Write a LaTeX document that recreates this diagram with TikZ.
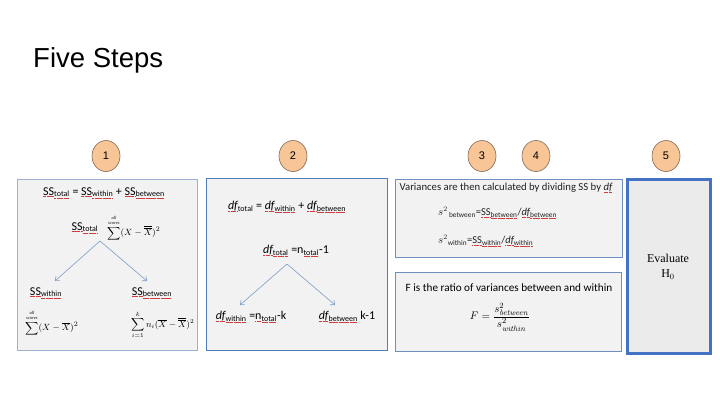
\documentclass[tikz,border=0pt]{standalone}
\usepackage[no-math]{fontspec}
\usepackage{amsmath}
\setmainfont{Carlito}
\newfontfamily\afont{Liberation Sans}
\newfontfamily\tfont{Liberation Serif}
\usetikzlibrary{shapes.geometric,arrows.meta}
\definecolor{boxfill}{HTML}{F2F2F2}
\definecolor{boxfillb}{HTML}{EBEBEB}
\definecolor{numfill}{HTML}{F8C597}
\definecolor{numdraw}{HTML}{7F6A55}
\definecolor{bA}{HTML}{9AB1D3}
\definecolor{bB}{HTML}{4F7DB8}
\definecolor{bC}{HTML}{6F8FC0}
\definecolor{bD}{HTML}{4472C4}
\definecolor{arrcol}{HTML}{7E9CC6}
\definecolor{sqcol}{HTML}{D23C3C}
\definecolor{txtgray}{HTML}{202020}
\newsavebox\sqbox
\newcommand\sq[1]{\sbox\sqbox{#1}\leavevmode\rlap{\usebox\sqbox}\raisebox{-1.6pt}{\textcolor{sqcol}{\hbox to \wd\sqbox{\xleaders\hbox{\rule{0.6pt}{0.5pt}\kern0.5pt}\hfill}}}}
\newcommand\lsub[1]{\textsubscript{#1}}
\newcommand\allsc{\text{\tfont\itshape\fontsize{4.5}{4.5}\selectfont\shortstack{all\\scores}}}
\tikzset{
  box/.style={draw=#1, fill=boxfill, line width=1.1pt, anchor=north west, inner sep=0pt},
  num/.style={ellipse, draw=numdraw, line width=0.6pt, fill=numfill, minimum width=28pt, minimum height=31pt, inner sep=0pt, font=\afont\fontsize{11}{13}\selectfont},
  tA/.style={font=\fontsize{12}{14}\selectfont, inner sep=0pt},
  tM/.style={font=\fontsize{9.3}{11}\selectfont, inner sep=0pt},
  tS/.style={font=\fontsize{10.7}{12}\selectfont, inner sep=0pt, text=txtgray},
  arr/.style={draw=arrcol, line width=0.6pt, -{Straight Barb[length=3.5pt,width=6pt]}}
}
\begin{document}
\begin{tikzpicture}[x=1pt,y=-1pt]
\useasboundingbox (0,0) rectangle (720,405);
% title
\node[anchor=base west, inner sep=0pt, font=\afont\fontsize{27.5}{30}\selectfont] (title) at (33,67) {Five Steps};
% step numbers
\node[num] (n1) at (106,156) {1};
\node[num] (n2) at (293,156) {2};
\node[num] (n3) at (482,156) {3};
\node[num] (n4) at (536,156) {4};
\node[num] (n5) at (666,156) {5};
% boxes
\node[box=bA, minimum width=180pt, minimum height=171pt] (b1) at (17,179) {};
\node[box=bB, line width=1.4pt, minimum width=181pt, minimum height=172pt] (b2) at (206,178) {};
\node[box=bC, minimum width=227pt, minimum height=78pt] (b3) at (395,179) {};
\node[box=bC, minimum width=226pt, minimum height=79pt] (b4) at (395,272) {};
\node[box=bD, fill=boxfillb, line width=2.6pt, minimum width=83pt, minimum height=174pt] (b5) at (626,178) {};
% box 1
\node[tA] (e1) at (104,193) {\sq{SS}\lsub{\sq{total}} = \sq{SS}\lsub{\sq{within}} + \sq{SS}\lsub{\sq{between}}};
\node[tA] (sst) at (85,228) {\sq{SS}\lsub{\sq{total}}};
\node[tM, anchor=south west] (f1) at (107,241) {$\displaystyle\sum^{\allsc}(X-\overline{\overline{X}})^2$};
\coordinate (a1) at (100,241);
\coordinate (a1l) at (55,281);
\coordinate (a1r) at (147,281);
\draw[arr] (a1) -- (a1l);
\draw[arr] (a1) -- (a1r);
\node[tA] (ssw) at (46,293) {\sq{SS}\lsub{\sq{within}}};
\node[tA] (ssb) at (152,293) {\sq{SS}\lsub{\sq{between}}};
\node[tM, anchor=south west] (f2) at (25,336) {$\displaystyle\sum^{\allsc}(X-\overline{X})^2$};
\node[tM, font=\fontsize{8.8}{10}\selectfont, anchor=south west] (f3) at (131,339) {$\displaystyle\sum_{i=1}^{k} n_i(\overline{X}-\overline{\overline{X}})^2$};
% box 2
\node[tA] (d1) at (287,207) {\textit{\sq{df}}\lsub{total} = \textit{\sq{df}}\lsub{\sq{within}} + \textit{\sq{df}}\lsub{\sq{between}}};
\node[tA] (dft) at (296,251) {\textit{\sq{df}}\lsub{\sq{total}} =n\lsub{\sq{total}}-1};
\coordinate (a2) at (287,264);
\coordinate (a2l) at (240,305);
\coordinate (a2r) at (335,305);
\draw[arr] (a2) -- (a2l);
\draw[arr] (a2) -- (a2r);
\node[tA] (dfw) at (251,317) {\textit{\sq{df}}\lsub{\sq{within}} =\sq{n}\lsub{\sq{total}}-k};
\node[tA] (dfb) at (347,317) {\textit{\sq{df}}\lsub{\sq{between}} k-1};
% box 3
\node[tS] (v0) at (506,188) {Variances are then calculated by dividing SS by \textit{\sq{df}}};
\node[tS, anchor=west, font=\fontsize{10.5}{12}\selectfont] (v1) at (438,213) {$s^2$\lsub{\,between}=\sq{SS}\lsub{\sq{between}}/\textit{\sq{df}}\lsub{\sq{between}}};
\node[tS, anchor=west, font=\fontsize{10.5}{12}\selectfont] (v2) at (438,241) {$s^2$\lsub{within}=\sq{SS}\lsub{\sq{within}}/\textit{\sq{df}}\lsub{\sq{within}}};
% box 4
\node[tS, font=\fontsize{11.2}{13}\selectfont, text=black] (r0) at (509,288) {F is the ratio of variances between and within};
\node[tM, font=\fontsize{11}{13}\selectfont, inner sep=0pt] (fr) at (500,317) {$F=\dfrac{s^2_{\mathit{between}}}{s^2_{\mathit{within}}}$};
% box 5
\node[inner sep=0pt, align=center, font=\tfont\fontsize{12}{15}\selectfont] (ev) at (668,267) {Evaluate\\H$_{0}$};
\end{tikzpicture}
\end{document}
